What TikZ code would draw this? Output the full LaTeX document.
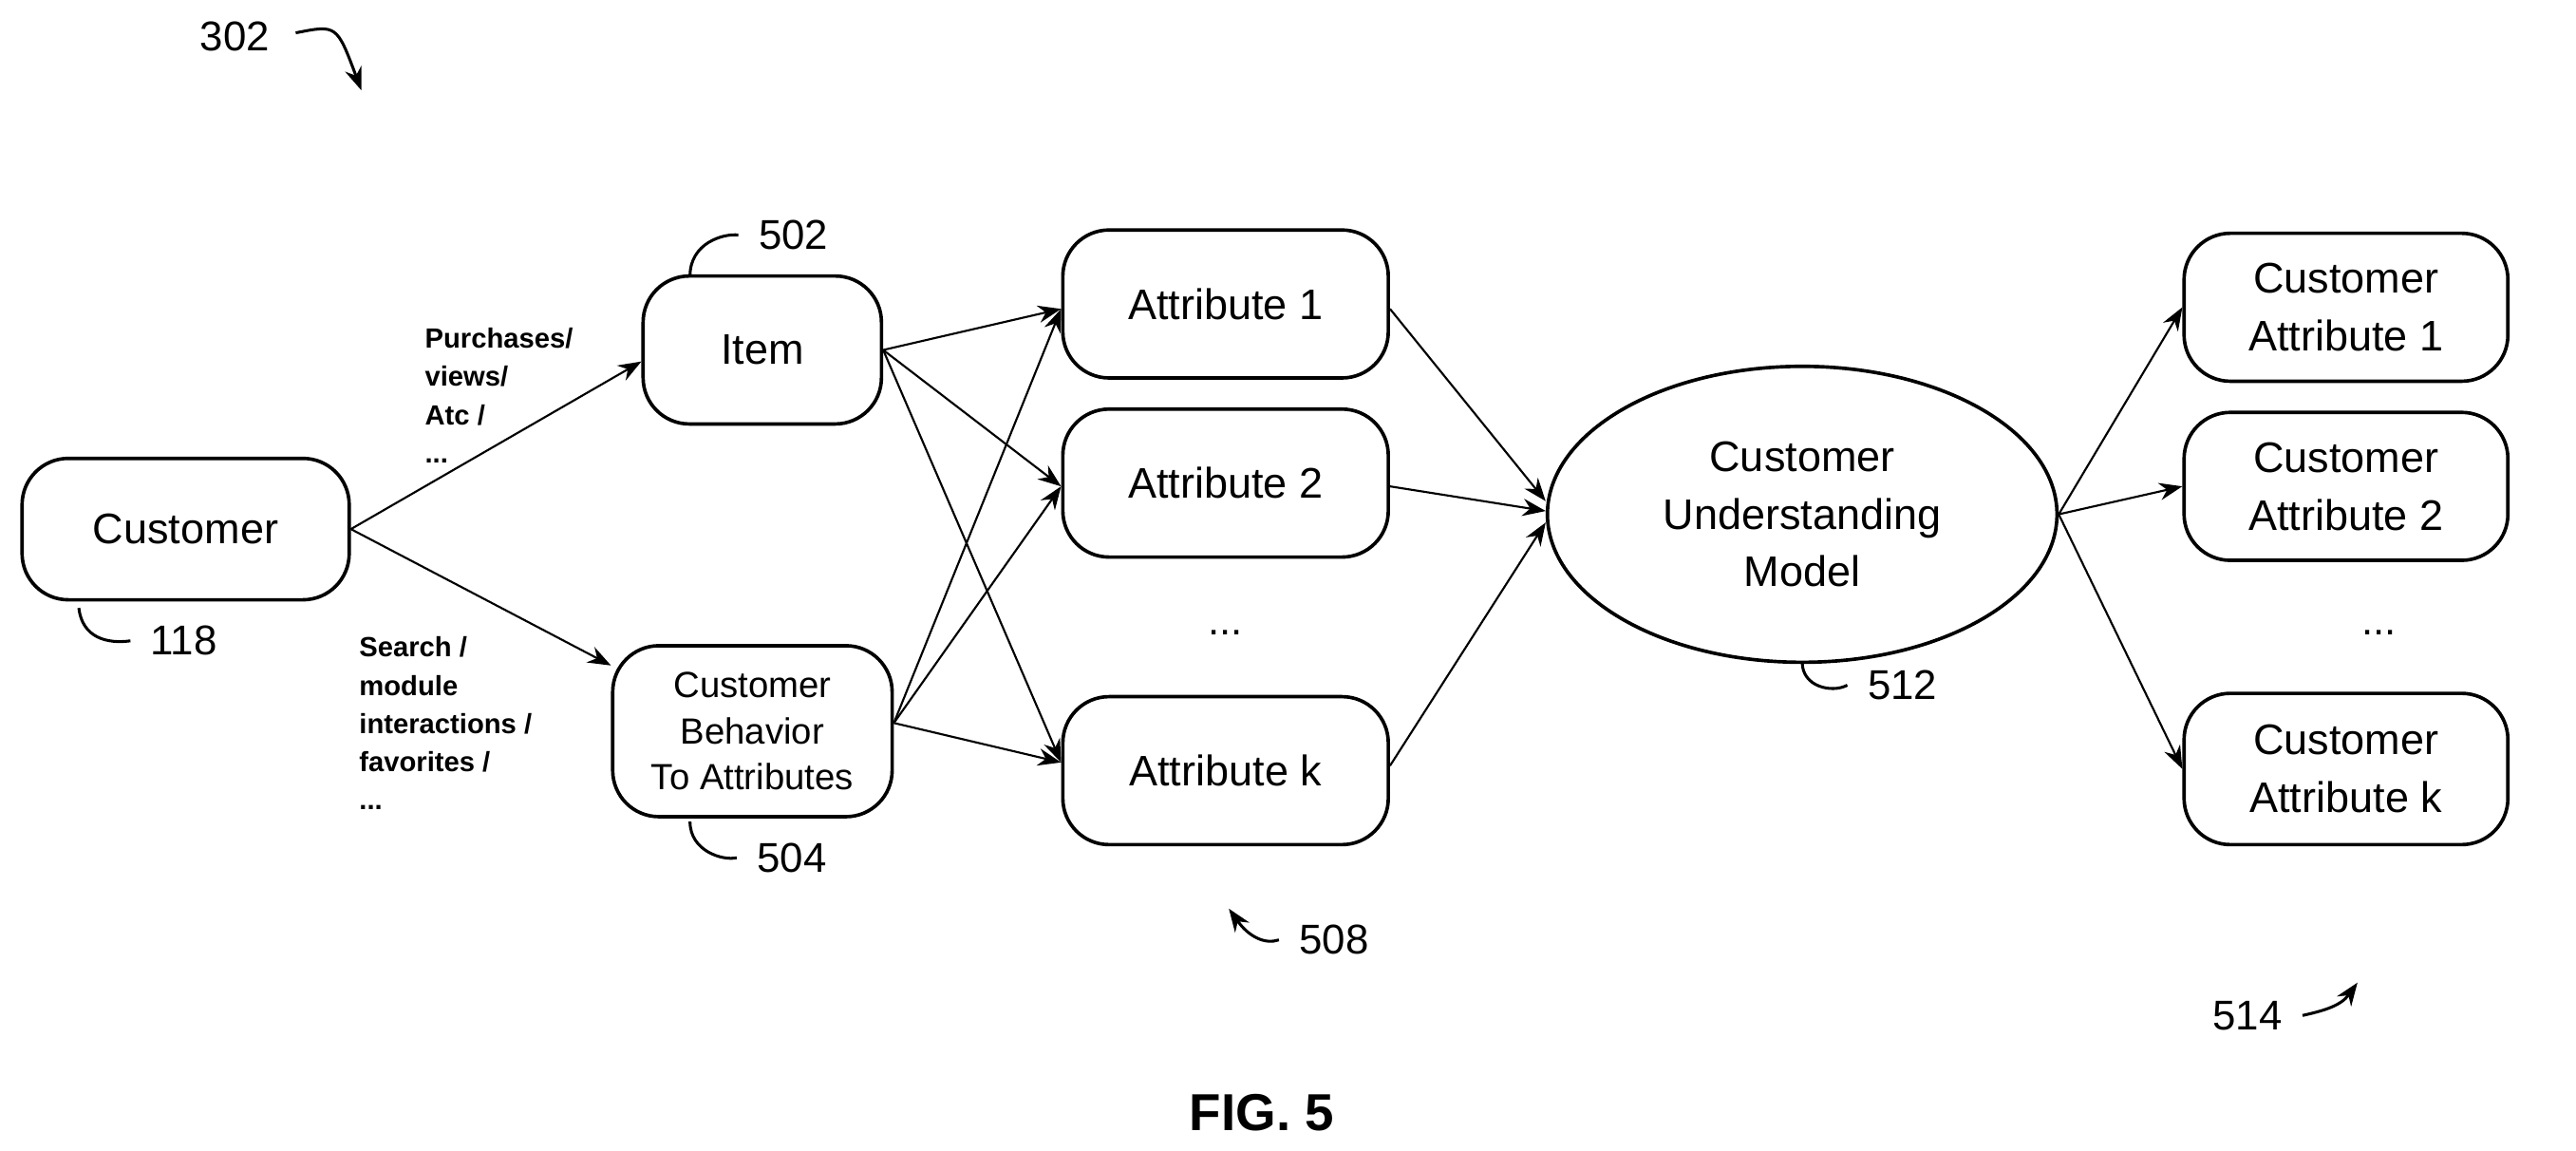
\documentclass[tikz,border=0pt]{standalone}
\usepackage{fontspec}
\setmainfont{Liberation Sans}
\usetikzlibrary{shapes.geometric,arrows.meta}
\begin{document}
\begin{tikzpicture}[x=0.01cm,y=-0.01cm,
 box/.style={draw,rounded corners=8pt,line width=0.6pt,align=center,font=\fontsize{7.4}{8.6}\selectfont,inner sep=0pt},
 arr/.style={-{Stealth[length=4pt,width=3pt]},line width=0.35pt},
 lbl/.style={font=\fontsize{7.2}{8}\selectfont},
 el/.style={font=\bfseries\fontsize{4.8}{6.6}\selectfont,align=left,anchor=north west,inner sep=0pt},
 cur/.style={line width=0.5pt}]
\useasboundingbox (0,0) rectangle (1568,700);
\node[box,minimum width=199\pgflinewidth*0+1.99cm,minimum height=0.86cm] (cust) at (113,322) {Customer};
\node[box,minimum width=1.45cm,minimum height=0.9cm] (item) at (464,213) {Item};
\node[box,minimum width=1.7cm,minimum height=1.04cm,font=\fontsize{6.3}{8}\selectfont] (cb) at (458,445) {Customer\\Behavior\\To Attributes};
\node[box,minimum width=1.98cm,minimum height=0.9cm] (a1) at (746,185) {Attribute 1};
\node[box,minimum width=1.98cm,minimum height=0.9cm] (a2) at (746,294) {Attribute 2};
\node[lbl] (d1) at (746,385) {...};
\node[box,minimum width=1.98cm,minimum height=0.9cm] (ak) at (746,469) {Attribute k};
\node[draw,ellipse,line width=0.6pt,minimum width=3.1cm,minimum height=1.8cm,align=center,font=\fontsize{7.4}{10}\selectfont,inner sep=0pt] (m) at (1097,313) {Customer\\Understanding\\Model};
\node[box,minimum width=1.97cm,minimum height=0.9cm,font=\fontsize{7.4}{10}\selectfont] (c1) at (1428,187) {Customer\\Attribute 1};
\node[box,minimum width=1.97cm,minimum height=0.9cm,font=\fontsize{7.4}{10}\selectfont] (c2) at (1428,296) {Customer\\Attribute 2};
\node[lbl] (d2) at (1448,385) {...};
\node[box,minimum width=1.97cm,minimum height=0.92cm,font=\fontsize{7.4}{10}\selectfont] (ck) at (1428,468) {Customer\\Attribute k};
% connectors
\draw[arr] (cust.east) -- (item.west|-0,220);
\draw[arr] (cust.east) -- (cb.west|-0,405);
\foreach \s/\y in {item/213,cb/440}{
 \draw[arr] (\s.east|-0,\y) -- (a1.west|-0,188);
 \draw[arr] (\s.east|-0,\y) -- (a2.west|-0,296);
 \draw[arr] (\s.east|-0,\y) -- (ak.west|-0,464);}
\draw[arr] (a1.east|-0,188) -- (m.west|-0,305);
\draw[arr] (a2.east|-0,296) -- (m.west|-0,311);
\draw[arr] (a1.east|-0,466) -- (m.west|-0,318);
\foreach \t in {c1,c2,ck} \draw[arr] (m.east) -- (\t.west);
% edge labels
\node[el] (l1) at (258,199) {Purchases/\\views/\\Atc /\\...};
\node[el] (l2) at (218,387) {Search /\\module\\interactions /\\favorites /\\...};
% reference numerals
\node[lbl] (n302) at (143,22) {302};
\coordinate (p302) at (220,55);
\draw[arr,cur] (180,20) .. controls (205,15) .. (p302);
\node[lbl] (n502) at (483,143) {502};
\draw[cur] (420,168) .. controls (420,148) and (440,142) .. (n502.west);
\node[lbl] (n118) at (112,390) {118};
\draw[cur] (48,370) .. controls (50,388) and (65,392) .. (n118.west);
\node[lbl] (n504) at (482,522) {504};
\draw[cur] (420,500) .. controls (420,518) and (440,524) .. (n504.west);
\node[lbl] (n508) at (812,572) {508};
\coordinate (p508) at (748,553);
\draw[arr,cur] (n508.west) .. controls (770,575) and (760,570) .. (p508);
\node[lbl] (n512) at (1158,417) {512};
\draw[cur] (1097,403) .. controls (1097,418) and (1115,422) .. (n512.west);
\node[lbl] (n514) at (1368,618) {514};
\coordinate (p514) at (1435,598);
\draw[arr,cur] (n514.east) .. controls (1415,615) and (1425,612) .. (p514);
\node[font=\bfseries\fontsize{9}{10}\selectfont] (fig) at (768,677) {FIG. 5};
\end{tikzpicture}
\end{document}
